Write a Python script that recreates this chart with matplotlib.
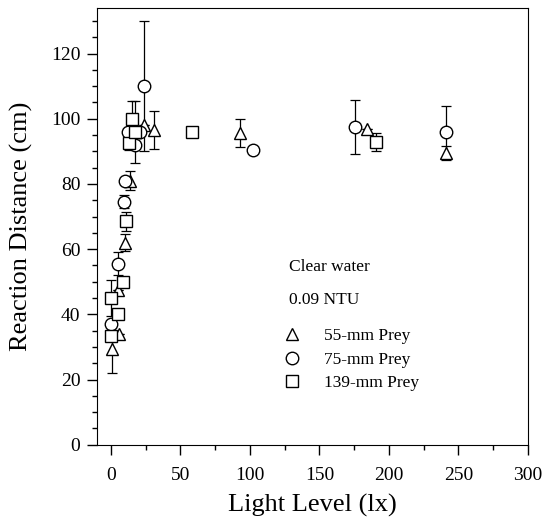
import numpy as np
import matplotlib.pyplot as plt
import matplotlib.ticker as mticker

plt.rcParams["font.family"] = ["Liberation Serif", "DejaVu Serif"]

# 55-mm prey (triangles)
x55 = [1, 6, 5, 10, 14, 24, 31, 93, 184, 241]
y55 = [29.5, 34, 47.5, 62, 81, 98, 96.5, 95.5, 97, 89.5]
e55 = [7.5, 0, 0, 2.5, 3, 0, 5.8, 4.3, 0, 2]

# 75-mm prey (circles)
x75 = [0, 5, 9.5, 10, 12, 17, 21, 24, 102, 175.6, 241]
y75 = [37, 55.5, 74.5, 81, 96, 92, 96, 110, 90.3, 97.6, 96]
e75 = [1, 3.5, 2, 0, 0, 0, 0, 20, 0, 8.3, 8]

# 139-mm prey (squares)
x139 = [0, 5, 0, 8.5, 10.5, 13, 17.5, 15.5, 58, 190.5]
y139 = [33.5, 40, 45, 50, 68.5, 92.5, 96, 100, 96, 92.8]
e139 = [0, 0, 5.5, 0, 3, 2, 9.5, 5.5, 0, 2.8]

fig = plt.figure(figsize=(5.42, 5.27), dpi=100)
ax = fig.add_axes([0.179, 0.156, 0.795, 0.829])

for x, y, e in [(x55, y55, e55), (x75, y75, e75), (x139, y139, e139)]:
    ax.errorbar(x, y, yerr=e, fmt="none", ecolor="black", elinewidth=0.9,
                capsize=3.5, capthick=0.9, zorder=2)

mk = dict(linestyle="none", markerfacecolor="white", markeredgecolor="black",
          markeredgewidth=1.0, zorder=3)
ax.plot(x55, y55, marker="^", markersize=9, label="55-mm Prey", **mk)
ax.plot(x75, y75, marker="o", markersize=9, label="75-mm Prey", **mk)
ax.plot(x139, y139, marker="s", markersize=8, label="139-mm Prey", **mk)

ax.set_xlim(-10, 300)
ax.set_ylim(0, 134)
ax.xaxis.set_major_locator(mticker.MultipleLocator(50))
ax.xaxis.set_minor_locator(mticker.MultipleLocator(25))
ax.yaxis.set_major_locator(mticker.MultipleLocator(20))
ax.yaxis.set_minor_locator(mticker.MultipleLocator(5))
ax.tick_params(which="both", direction="out", top=False, right=False, width=1)
ax.tick_params(which="major", length=7, labelsize=14)
ax.tick_params(which="minor", length=3.6)
ax.tick_params(axis="x", which="major", pad=9)
ax.tick_params(axis="y", which="major", pad=5)

ax.set_xlabel("Light Level (lx)", fontsize=19, labelpad=7)
ax.set_ylabel("Reaction Distance (cm)", fontsize=19, labelpad=13)

ax.text(128.4, 54.6, "Clear water", fontsize=12.5, va="center", ha="left")
ax.text(128.4, 44.5, "0.09 NTU", fontsize=12.5, va="center", ha="left")
ax.legend(loc="center left", bbox_to_anchor=(0.433, 0.1945), frameon=False,
          fontsize=12.5, numpoints=1, handlelength=1.0, handletextpad=1.3,
          labelspacing=0.42, borderaxespad=0, borderpad=0)

fig.savefig("out.png", dpi=100)
